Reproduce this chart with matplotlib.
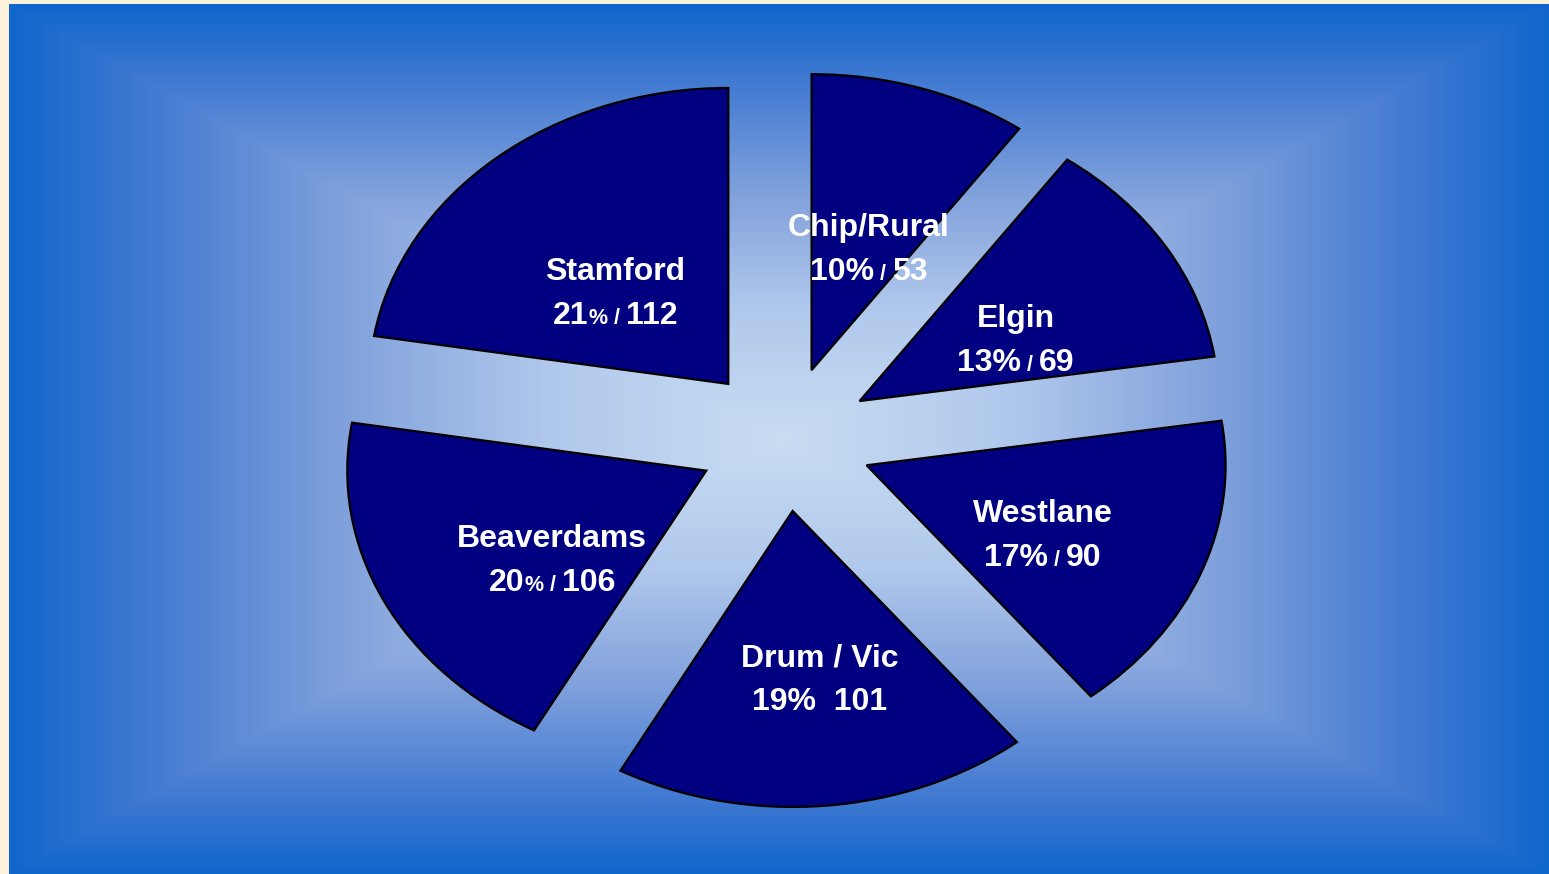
#!/usr/bin/env python3
"""Exploded, tilted pie of the six areas on a blue path-gradient slide."""

import numpy as np
import matplotlib
matplotlib.use("Agg")
import matplotlib.pyplot as plt
from matplotlib.colors import LinearSegmentedColormap
from matplotlib.offsetbox import TextArea, HPacker, VPacker, AnnotationBbox

# data, clockwise from 12 o'clock
areas  = ["Chip/Rural", "Elgin", "Westlane", "Drum / Vic", "Beaverdams", "Stamford"]
# slice sizes as drawn (Stamford's wedge is drawn from 121, its label reads 112)
counts = [53, 69, 90, 101, 106, 121]
# the text typed on each wedge
label_pct = ["10", "13", "17", "19", "20", "21"]
label_num = ["53", "69", "90", "101", "106", "112"]

# how the "pct / count" line was typed on the original slide
pct_small = [False, False, False, False, True, True]
has_slash = [True, True, True, False, True, True]

W, H = 1549, 874
CX, CY = 785, 439          # pie centre (pixels, from top)
RX, RY = 359, 296          # horizontal / vertical radius in pixels
EXPLODE = 0.244
# label centres in pixels (from top)
label_pos = [(869, 250), (1016, 341), (1043, 536), (820, 680), (552, 561), (615, 294)]

fig = plt.figure(figsize=(W / 100, H / 100), dpi=100)
fig.patch.set_facecolor("#FCF1DA")

# background: rectangular "from centre" gradient
bx0, by0 = 9, 4
bg = fig.add_axes([bx0 / W, 0, 1 - bx0 / W, 1 - by0 / H])
bg.set_axis_off()
bw, bh = W - bx0, H - by0
xs = np.linspace(-1, 1, bw)
ys = np.linspace(-1, 1, bh)
gx, gy = np.meshgrid(xs, ys)
t = np.maximum(np.abs(gx), np.abs(gy))
cmap = LinearSegmentedColormap.from_list("slide", [
    (0.00, "#C8DDF2"),
    (0.30, "#B0C8EC"),
    (0.56, "#82A2DC"),
    (0.82, "#427AD2"),
    (1.00, "#1066CC"),
])
bg.imshow(t, cmap=cmap, vmin=0, vmax=1, aspect="auto", interpolation="bilinear")

# pie
ax = fig.add_axes([0, 0, 1, 1])
ax.pie(counts, startangle=90, counterclock=False, explode=[EXPLODE] * len(counts),
       colors=["#000080"] * len(counts),
       wedgeprops=dict(edgecolor="black", linewidth=1.6))
ax.set_aspect("auto")
ax.set_xlim(-CX / RX, (W - CX) / RX)
ax.set_ylim(-(H - CY) / RY, CY / RY)
ax.set_axis_off()

BIG, SMALL = 23, 15.5
font = "Liberation Sans"


def piece(s, size):
    return TextArea(s, textprops=dict(color="white", fontsize=size,
                                      fontweight="bold", family=font))


for name, pct, num, psm, sl, (px, py) in zip(areas, label_pct, label_num,
                                            pct_small, has_slash, label_pos):
    parts = []
    if psm:
        parts += [piece(pct, BIG), piece("%", SMALL)]
    else:
        parts.append(piece(pct + "%", BIG))
    if sl:
        parts += [piece(" / ", SMALL), piece(num, BIG)]
    else:
        parts.append(piece("  " + num, BIG))
    line2 = HPacker(children=parts, align="baseline", pad=0, sep=0)
    box = VPacker(children=[piece(name, BIG), line2], align="center", pad=0, sep=10)
    ab = AnnotationBbox(box, (px / W, 1 - py / H), xycoords="figure fraction",
                        frameon=False, box_alignment=(0.5, 0.5))
    ax.add_artist(ab)

fig.savefig("out.png", dpi=100)
